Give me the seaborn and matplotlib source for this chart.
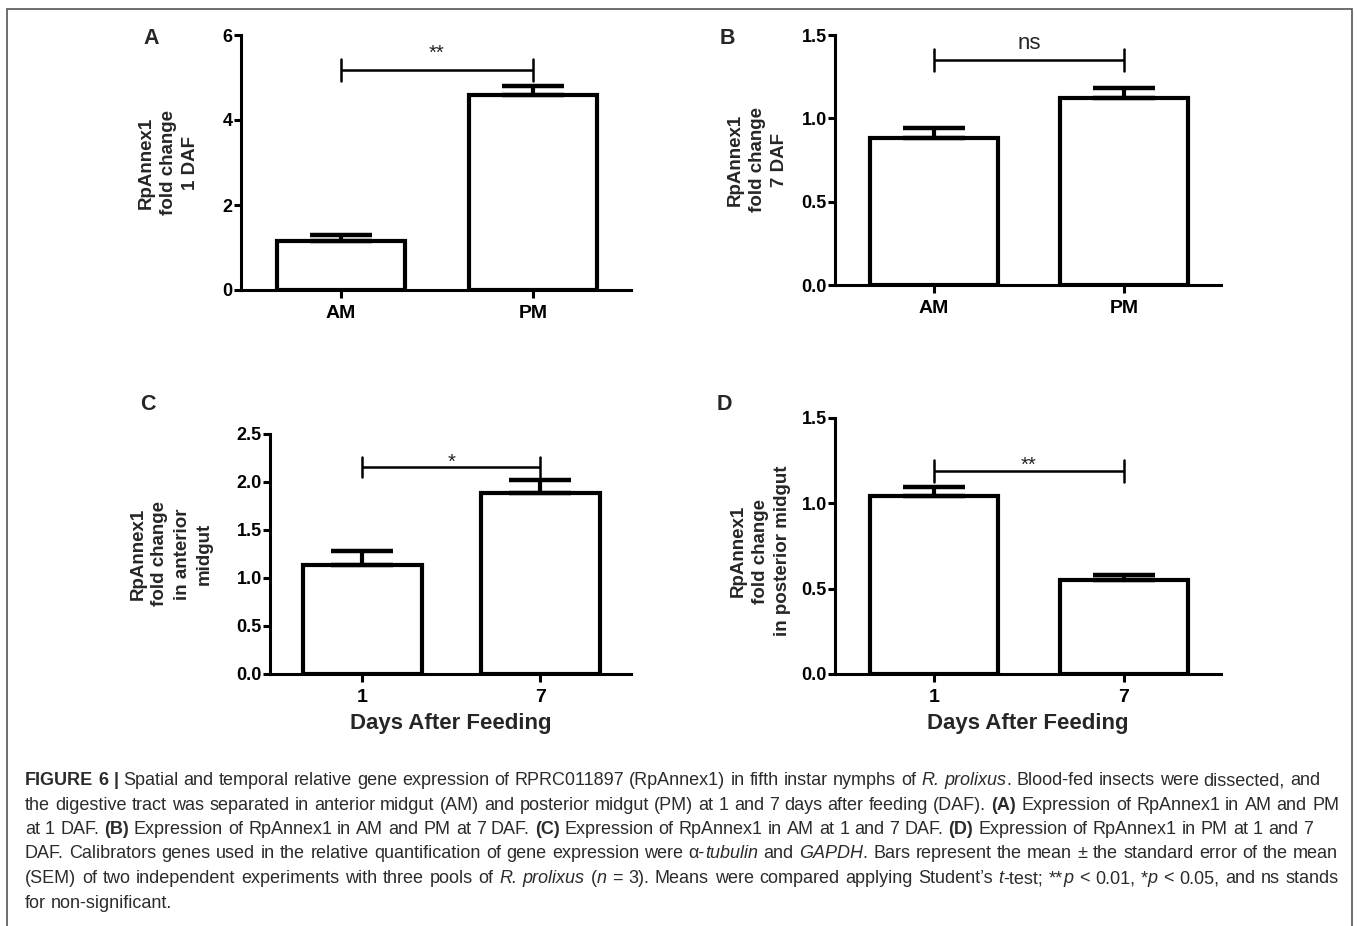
import numpy as np
import pandas as pd
import matplotlib
matplotlib.use("Agg")
import matplotlib.pyplot as plt
import seaborn as sns
from matplotlib.patches import Rectangle
from matplotlib.ticker import FormatStrFormatter

# values: mean and SEM of RpAnnex1 fold change
ab_groups = ["AM", "PM"]
day_groups = ["1", "7"]

a_mean = [1.15, 4.59]
a_sem = [0.14, 0.22]
b_mean = [0.88, 1.12]
b_sem = [0.062, 0.062]
c_mean = [1.135, 1.885]
c_sem = [0.145, 0.135]
d_mean = [1.045, 0.548]
d_sem = [0.053, 0.03]

# significance brackets
sig_labels = ["**", "ns", "*", "**"]
sig_y = [5.18, 1.35, 2.16, 1.19]
sig_half = [0.26, 0.065, 0.105, 0.065]

y_max = [6, 1.5, 2.5, 1.5]
y_ticks = [[0, 2, 4, 6], [0, 0.5, 1.0, 1.5],
           [0, 0.5, 1.0, 1.5, 2.0, 2.5], [0, 0.5, 1.0, 1.5]]
y_fmt = ["%d", "%.1f", "%.1f", "%.1f"]

y_labels = ["RpAnnex1\nfold change\n1 DAF",
            "RpAnnex1\nfold change\n7 DAF",
            "RpAnnex1\nfold change\nin anterior\nmidgut",
            "RpAnnex1\nfold change\nin posterior midgut"]
panel_letters = ["A", "B", "C", "D"]

caption = [
    [("FIGURE 6 |", "b"),
     (" Spatial and temporal relative gene expression of RPRC011897 (RpAnnex1) in fifth instar nymphs of ", "r"),
     ("R. prolixus", "i"), (". Blood-fed insects were dissected, and", "r")],
    [("the digestive tract was separated in anterior midgut (AM) and posterior midgut (PM) at 1 and 7 days after feeding (DAF). ", "r"),
     ("(A)", "b"), (" Expression of RpAnnex1 in AM and PM", "r")],
    [("at 1 DAF. ", "r"), ("(B)", "b"), (" Expression of RpAnnex1 in AM and PM at 7 DAF. ", "r"),
     ("(C)", "b"), (" Expression of RpAnnex1 in AM at 1 and 7 DAF. ", "r"),
     ("(D)", "b"), (" Expression of RpAnnex1 in PM at 1 and 7", "r")],
    [("DAF. Calibrators genes used in the relative quantification of gene expression were \u03b1-", "r"),
     ("tubulin", "i"), (" and ", "r"), ("GAPDH", "i"),
     (". Bars represent the mean \u00b1 the standard error of the mean", "r")],
    [("(SEM) of two independent experiments with three pools of ", "r"), ("R. prolixus", "i"),
     (" (", "r"), ("n", "i"), (" = 3). Means were compared applying Student\u2019s ", "r"),
     ("t", "i"), ("-test; **", "r"), ("p", "i"), (" < 0.01, *", "r"), ("p", "i"),
     (" < 0.05, and ns stands", "r")],
    [("for non-significant.", "r")],
]

sns.set_style("ticks")
plt.rcParams["font.family"] = ["Liberation Sans", "DejaVu Sans"]
plt.rcParams["axes.linewidth"] = 2.2
plt.rcParams["xtick.major.width"] = 2.2
plt.rcParams["ytick.major.width"] = 2.2
plt.rcParams["xtick.color"] = "black"
plt.rcParams["ytick.color"] = "black"
plt.rcParams["axes.edgecolor"] = "black"

W, H = 1358, 926
fig = plt.figure(figsize=(W / 100, H / 100), dpi=100)


def px_axes(left, right, top, bottom):
    return fig.add_axes([left / W, 1 - bottom / H, (right - left) / W, (bottom - top) / H])


axes = [px_axes(241, 631, 35, 290), px_axes(835, 1221, 35, 285),
        px_axes(270, 631, 434, 674), px_axes(835, 1221, 418, 674)]

panels = [(ab_groups, a_mean, a_sem), (ab_groups, b_mean, b_sem),
          (day_groups, c_mean, c_sem), (day_groups, d_mean, d_sem)]

label_x = [-0.187, -0.2, -0.274, -0.194]
label_y = [0.5, 0.5, 0.5, 0.48]
sig_offset = [7.7, 7.8, -1.0, 0.3]
sig_size = [14.5, 16, 14.5, 14.5]

for i, (ax, (cats, mean, sem)) in enumerate(zip(axes, panels)):
    df = pd.DataFrame({"group": cats, "value": mean})
    sns.barplot(data=df, x="group", y="value", ax=ax, color="white", saturation=1,
                edgecolor="black", linewidth=3, width=0.67, errorbar=None)
    ax.errorbar(np.arange(len(cats)), mean, yerr=[np.zeros(len(sem)), sem],
                fmt="none", ecolor="black", elinewidth=3, capsize=22, capthick=3.2)

    # significance bracket
    y, h = sig_y[i], sig_half[i]
    ax.plot([0, 1], [y, y], color="black", lw=1.8, solid_capstyle="butt")
    ax.plot([0, 0], [y - h, y + h], color="black", lw=1.8)
    ax.plot([1, 1], [y - h, y + h], color="black", lw=1.8)
    ax.annotate(sig_labels[i], xy=(0.5, y), xytext=(0, sig_offset[i]),
                textcoords="offset points", ha="center", va="baseline",
                fontsize=sig_size[i])

    ax.set_xlim(-0.52, 1.51)
    ax.set_ylim(0, y_max[i])
    ax.set_yticks(y_ticks[i])
    ax.yaxis.set_major_formatter(FormatStrFormatter(y_fmt[i]))
    ax.tick_params(axis="y", length=5, labelsize=13, pad=1)
    ax.tick_params(axis="x", length=6, labelsize=14, pad=5)
    for lab in ax.get_xticklabels() + ax.get_yticklabels():
        lab.set_fontweight("bold")
    sns.despine(ax=ax)

    ax.set_ylabel(y_labels[i], fontsize=13.5, fontweight="bold", linespacing=1.4,
                  ha="center", va="center")
    ax.yaxis.set_label_coords(label_x[i], label_y[i])
    if i >= 2:
        ax.set_xlabel("Days After Feeding", fontsize=16, fontweight="bold", labelpad=5)
    else:
        ax.set_xlabel("")

# panel letters
for letter, (px, py) in zip(panel_letters, [(151, 39), (727, 38), (148, 404), (724, 404)]):
    fig.text(px / W, 1 - py / H, letter, fontsize=15.5, fontweight="bold",
             ha="center", va="center")

# outer frame, open at the bottom edge
fig.patches.append(Rectangle((7 / W, -0.05), (1352 - 7) / W, 1.05 - 9 / H,
                             transform=fig.transFigure, fill=False,
                             edgecolor="#555555", lw=1.2))

# justified caption
renderer = fig.canvas.get_renderer()
styles = {"r": {}, "b": {"fontweight": "bold"}, "i": {"fontstyle": "italic"}}
cap_size = 13
cap_color = "#2b2b2b"
probe = fig.text(0, 0, "x x", fontsize=cap_size)
w_sp = probe.get_window_extent(renderer).width
probe.set_text("xx")
space = w_sp - probe.get_window_extent(renderer).width
probe.remove()

x0 = 25
line_end = [1320, 1339, 1313, 1338, 1339, None]
for k, runs in enumerate(caption):
    words = [[]]
    for text, st in runs:
        for j, part in enumerate(text.split(" ")):
            if j > 0:
                words.append([])
            if part:
                words[-1].append((part, st))
    words = [w for w in words if w]
    ybase = 1 - (785 + k * 24.5) / H
    items, total = [], 0
    for w in words:
        pieces = []
        for part, st in w:
            t = fig.text(0, ybase, part, fontsize=cap_size, va="baseline",
                         color=cap_color, **styles[st])
            pw = t.get_window_extent(renderer).width
            pieces.append((t, pw))
            total += pw
        items.append(pieces)
    if line_end[k] is not None:
        gap = (line_end[k] - x0 - total) / (len(items) - 1)
    else:
        gap = space
    x = x0
    for pieces in items:
        for t, pw in pieces:
            t.set_x(x / W)
            x += pw
        x += gap

fig.savefig("out.png", dpi=100)
